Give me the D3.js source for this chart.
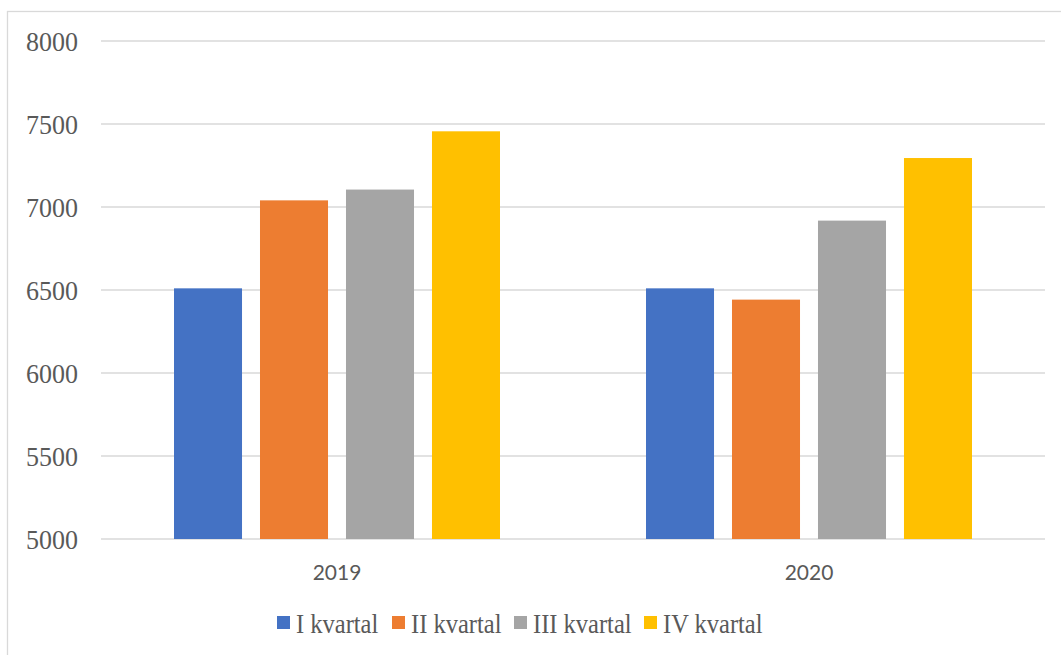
<!DOCTYPE html>
<html>
<head>
<meta charset="utf-8">
<script src="https://cdn.jsdelivr.net/npm/d3@7"></script>
<style>
  html, body { margin: 0; padding: 0; background: #ffffff; }
  svg { display: block; }
</style>
</head>
<body>
<svg id="chart" width="1061" height="655"></svg>
<script>
// Quarterly values per year
const years = ["2019", "2020"];
const quarters = ["I kvartal", "II kvartal", "III kvartal", "IV kvartal"];
const q1 = [6510, 6510];
const q2 = [7040, 6442];
const q3 = [7105, 6918];
const q4 = [7456, 7295];
const yTicks = [5000, 5500, 6000, 6500, 7000, 7500, 8000];
const colors = ["#4472c4", "#ed7d31", "#a5a5a5", "#ffc000"];

const seriesValues = [q1, q2, q3, q4];

const svg = d3.select("#chart");

// Chart area frame
svg.append("rect")
  .attr("x", 7.5).attr("y", 11.5)
  .attr("width", 1100).attr("height", 700)
  .attr("fill", "none")
  .attr("stroke", "#d9d9d9")
  .attr("stroke-width", 1.3);

const plot = { left: 101, right: 1045, top: 41, bottom: 539 };

const y = d3.scaleLinear().domain([5000, 8000]).range([plot.bottom, plot.top]);

const x0 = d3.scaleBand().domain(years).range([plot.left, plot.right]).padding(0);
const groupPad = 73;
const x1 = d3.scaleBand().domain(quarters)
  .range([groupPad, x0.bandwidth() - groupPad])
  .paddingInner(0.209).paddingOuter(0);

const serif = "'Liberation Serif', 'Times New Roman', serif";

// Gridlines
svg.append("g")
  .selectAll("line")
  .data(yTicks)
  .join("line")
  .attr("x1", plot.left).attr("x2", plot.right)
  .attr("y1", d => y(d)).attr("y2", d => y(d))
  .attr("stroke", "#d9d9d9")
  .attr("stroke-width", 1.3);

// Y axis labels (slightly tall serif face)
svg.append("g")
  .selectAll("text")
  .data(yTicks)
  .join("text")
  .attr("transform", d => `translate(78,${y(d)}) scale(1,1.08)`)
  .attr("dy", "0.34em")
  .attr("text-anchor", "end")
  .attr("font-family", serif)
  .attr("font-size", 26)
  .attr("fill", "#595959")
  .text(d => d);

// Bars
const groups = svg.append("g")
  .selectAll("g")
  .data(years)
  .join("g")
  .attr("transform", d => `translate(${x0(d)},0)`);

groups.selectAll("rect")
  .data((yr, i) => quarters.map((q, k) => ({ q, k, v: seriesValues[k][i] })))
  .join("rect")
  .attr("x", d => x1(d.q))
  .attr("width", x1.bandwidth())
  .attr("y", d => y(d.v))
  .attr("height", d => y(5000) - y(d.v))
  .attr("fill", d => colors[d.k]);

// Category labels
svg.append("g")
  .selectAll("text")
  .data(years)
  .join("text")
  .attr("x", d => x0(d) + x0.bandwidth() / 2)
  .attr("y", 580)
  .attr("text-anchor", "middle")
  .attr("font-family", "Lato, 'Liberation Sans', sans-serif")
  .attr("font-size", 21)
  .attr("fill", "#595959")
  .text(d => d);

// Legend
const legendX = [277, 392, 514, 644];
const legend = svg.append("g")
  .selectAll("g")
  .data(quarters)
  .join("g")
  .attr("transform", (d, i) => `translate(${legendX[i]},0)`);

legend.append("rect")
  .attr("x", 0).attr("y", 616)
  .attr("width", 13).attr("height", 13)
  .attr("fill", (d, i) => colors[i]);

legend.append("text")
  .attr("transform", "translate(19,633) scale(1,1.1)")
  .attr("font-family", serif)
  .attr("font-size", 24.5)
  .attr("fill", "#595959")
  .text(d => d);
</script>
</body>
</html>
